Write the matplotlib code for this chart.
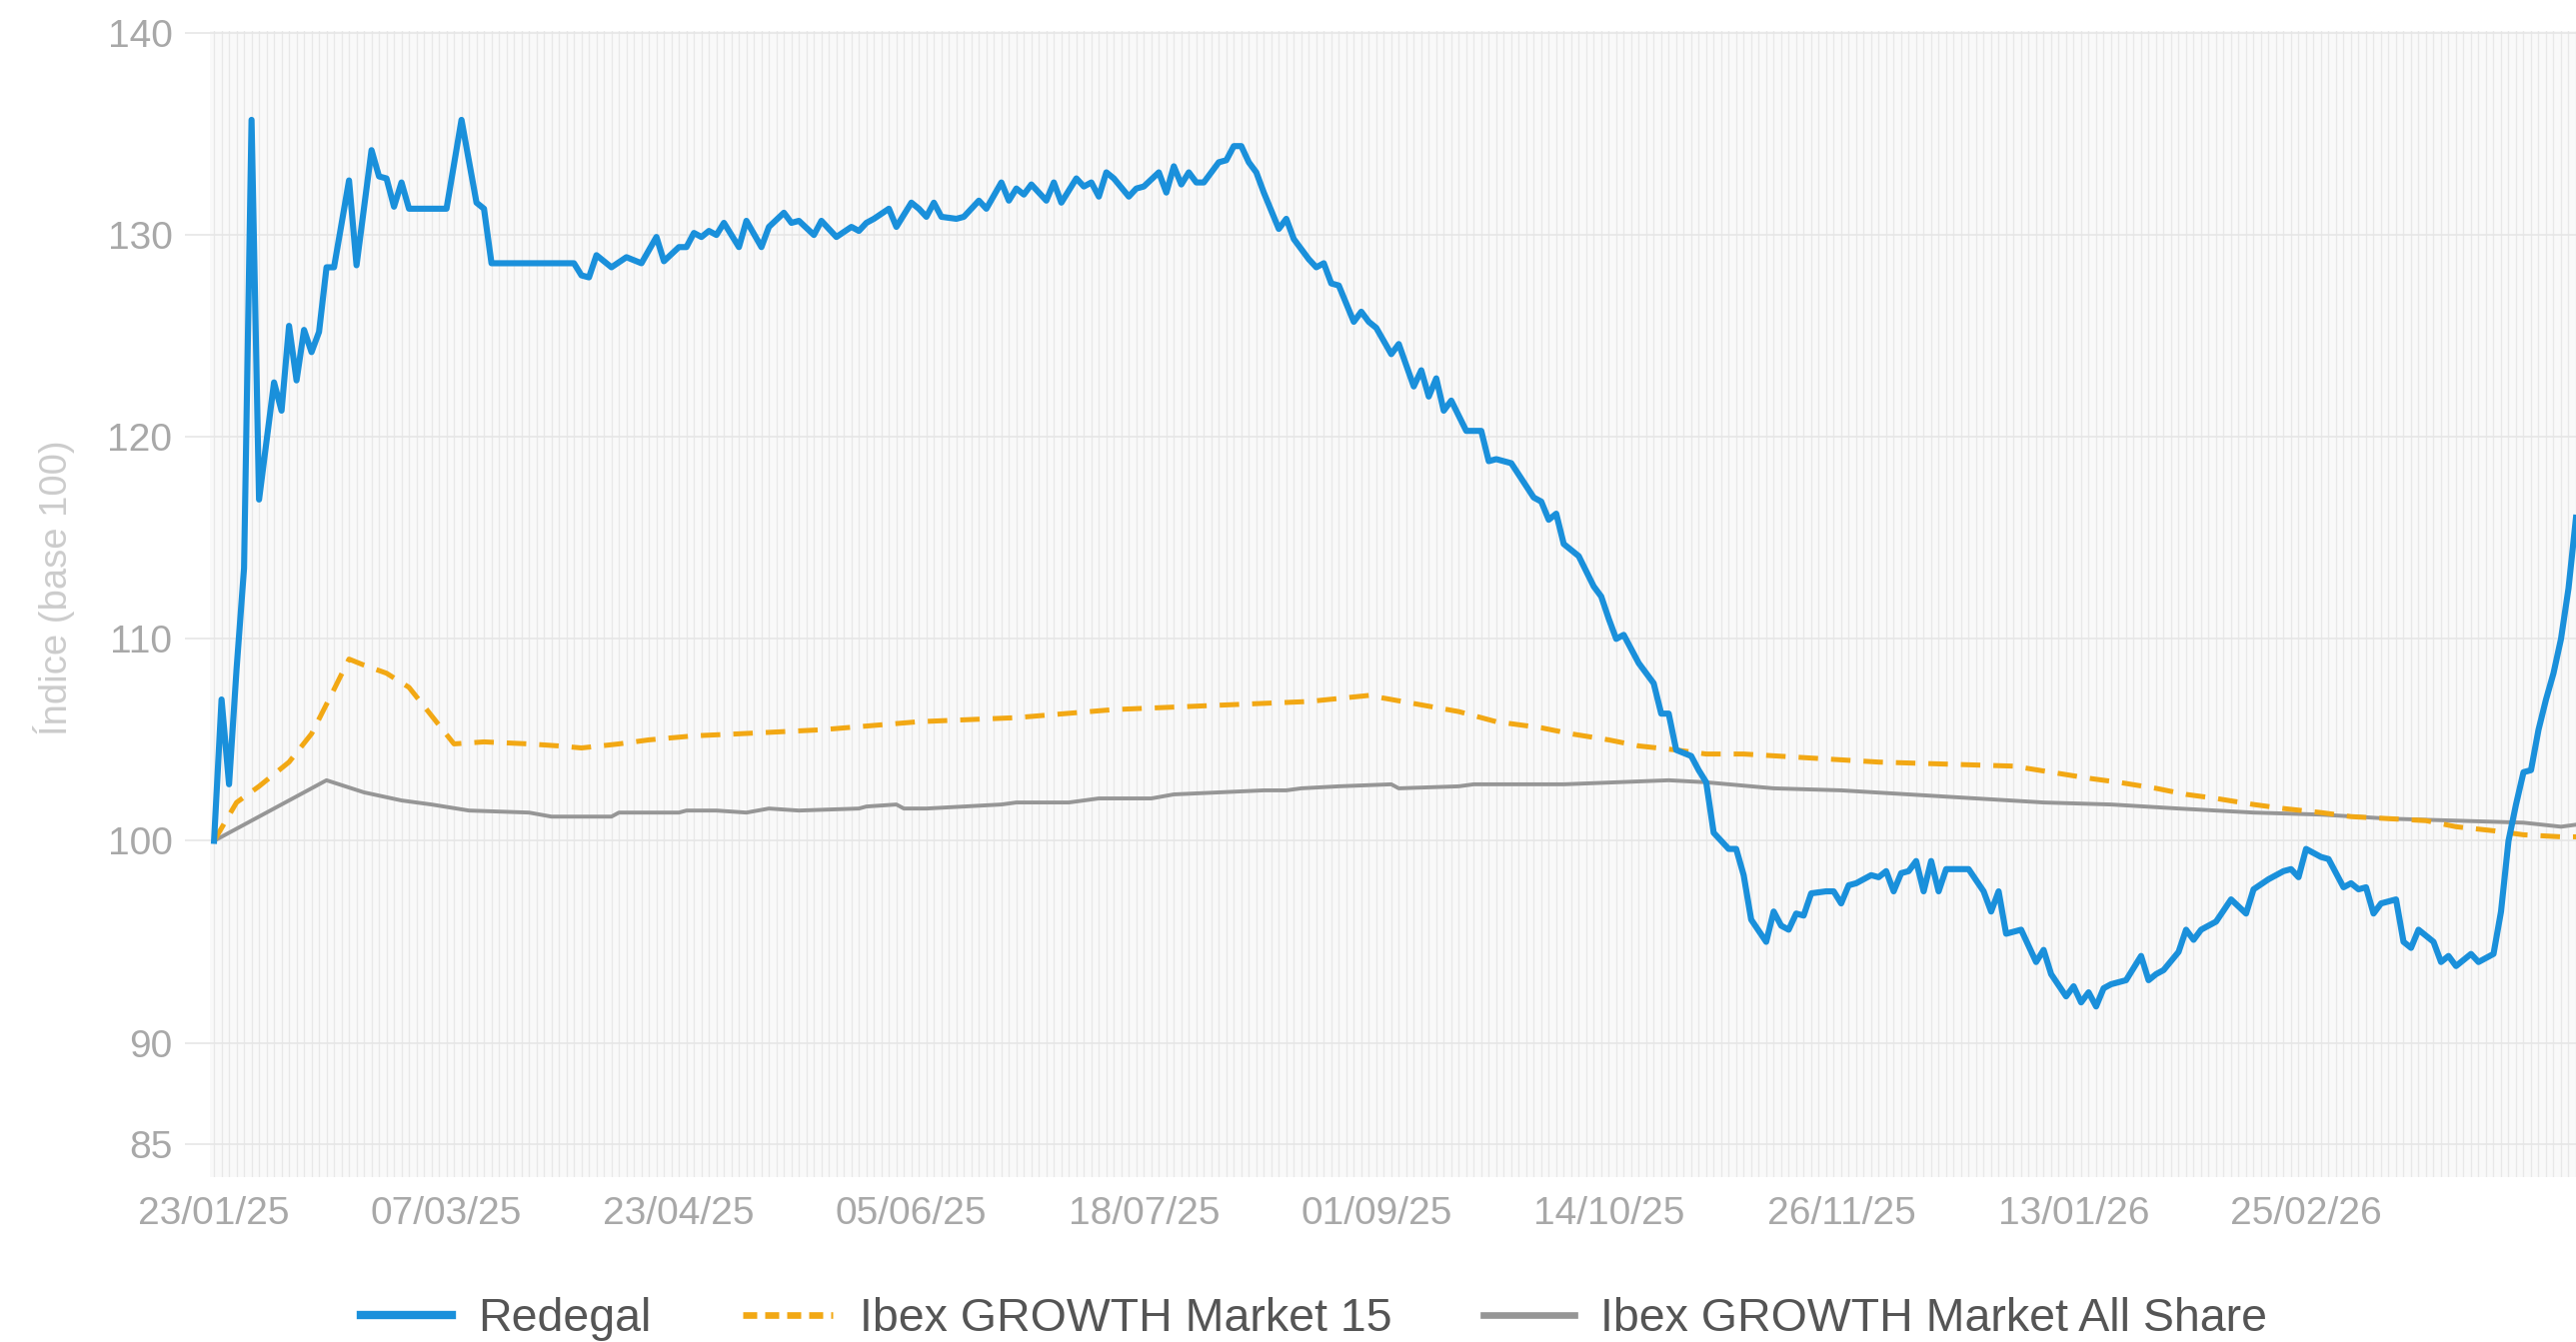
import matplotlib
matplotlib.use("Agg")
import matplotlib.pyplot as plt
from matplotlib.lines import Line2D
import numpy as np

plt.rcParams['font.family'] = ['Liberation Sans', 'DejaVu Sans']

# Colours
BLUE = '#1a90db'
ORANGE = '#f2a814'
GREY = '#969696'
TICK_TEXT = '#a8a8a8'
GRID = '#e6e6e6'

# x axis: trading-day index, a label every 31 sessions
tick_labels = ['23/01/25', '07/03/25', '23/04/25', '05/06/25', '18/07/25',
               '01/09/25', '14/10/25', '26/11/25', '13/01/26', '25/02/26']
tick_step = 31
y_ticks = [85, 90, 100, 110, 120, 130, 140]

# Redegal (index base 100)
redegal_x = [0, 1, 2, 3, 4, 5, 6, 7, 8, 9, 10, 11, 12, 13, 14, 15, 16, 18, 19,
             21, 22, 23, 24, 25, 26, 31, 33, 35, 36, 37, 48, 49, 50, 51, 53, 55,
             57, 59, 60, 62, 63, 64, 65, 66, 67, 68, 70, 71, 73, 74, 76, 77, 78,
             80, 81, 83, 85, 86, 87, 88, 90, 91, 93, 94, 95, 96, 97, 99, 100,
             102, 103, 105, 106, 107, 108, 109, 111, 112, 113, 115, 116, 117,
             118, 119, 120, 122, 123, 124, 126, 127, 128, 129, 130, 131, 132,
             134, 135, 136, 137, 138, 139, 140, 142, 143, 144, 146, 147, 148,
             149, 150, 152, 153, 154, 155, 157, 158, 160, 161, 162, 163, 164,
             165, 167, 169, 170, 171, 173, 176, 177, 178, 179, 180, 182, 184,
             185, 186, 187, 188, 190, 192, 193, 194, 195, 197, 198, 199, 200,
             202, 203, 204, 205, 207, 208, 209, 210, 211, 212, 213, 215, 216,
             217, 218, 219, 221, 222, 223, 224, 225, 226, 227, 228, 229, 230,
             231, 233, 234, 236, 237, 238, 239, 241, 243, 244, 245, 247, 248,
             249, 250, 251, 252, 253, 255, 257, 258, 259, 260, 262, 263, 264,
             265, 267, 269, 271, 272, 274, 276, 277, 278, 279, 281, 282, 284,
             285, 286, 287, 288, 289, 291, 292, 293, 294, 296, 297, 298, 299,
             301, 302, 304, 305, 306, 307, 308, 309, 310, 311, 312, 313, 314,
             315]
redegal_y = [100.0, 107.0, 102.8, 108.5, 113.5, 135.7, 116.9, 119.8, 122.7,
             121.3, 125.5, 122.8, 125.3, 124.2, 125.2, 128.4, 128.4, 132.7,
             128.5, 134.2, 132.9, 132.8, 131.4, 132.6, 131.3, 131.3, 135.7,
             131.6, 131.3, 128.6, 128.6, 128.0, 127.9, 129.0, 128.4, 128.9,
             128.6, 129.9, 128.7, 129.4, 129.4, 130.1, 129.9, 130.2, 130.0,
             130.6, 129.4, 130.7, 129.4, 130.4, 131.1, 130.6, 130.7, 130.0,
             130.7, 129.9, 130.4, 130.2, 130.6, 130.8, 131.3, 130.4, 131.6,
             131.3, 130.9, 131.6, 130.9, 130.8, 130.9, 131.7, 131.3, 132.6,
             131.7, 132.3, 132.0, 132.5, 131.7, 132.6, 131.6, 132.8, 132.4,
             132.6, 131.9, 133.1, 132.8, 131.9, 132.3, 132.4, 133.1, 132.1,
             133.4, 132.5, 133.1, 132.6, 132.6, 133.6, 133.7, 134.4, 134.4,
             133.6, 133.1, 132.1, 130.3, 130.8, 129.8, 128.8, 128.4, 128.6,
             127.6, 127.5, 125.7, 126.2, 125.7, 125.4, 124.1, 124.6, 122.5,
             123.3, 122.0, 122.9, 121.3, 121.8, 120.3, 120.3, 118.8, 118.9,
             118.7, 117.0, 116.8, 115.9, 116.2, 114.7, 114.1, 112.6, 112.1,
             111.0, 110.0, 110.2, 108.8, 107.8, 106.3, 106.3, 104.5, 104.2,
             103.5, 102.9, 100.4, 99.6, 99.6, 98.3, 96.1, 95.0, 96.5, 95.8,
             95.6, 96.4, 96.3, 97.4, 97.5, 97.5, 96.9, 97.8, 97.9, 98.3, 98.2,
             98.5, 97.5, 98.4, 98.5, 99.0, 97.5, 99.0, 97.5, 98.6, 98.6, 98.6,
             97.5, 96.5, 97.5, 95.4, 95.6, 94.0, 94.6, 93.4, 92.3, 92.8, 92.0,
             92.5, 91.8, 92.7, 92.9, 93.1, 94.3, 93.1, 93.4, 93.6, 94.5, 95.6,
             95.1, 95.6, 96.0, 97.1, 96.4, 97.6, 98.1, 98.5, 98.6, 98.2, 99.6,
             99.2, 99.1, 97.7, 97.9, 97.6, 97.7, 96.4, 96.9, 97.1, 95.0, 94.7,
             95.6, 95.0, 94.0, 94.3, 93.8, 94.4, 94.0, 94.4, 96.5, 100.0,
             101.8, 103.4, 103.5, 105.5, 107.0, 108.3, 110.0, 112.5, 116.0]

# Ibex GROWTH Market 15
ibex15_x = [0, 3, 6, 10, 13, 16, 18, 20, 23, 26, 29, 32, 36, 42, 46, 49, 54,
            58, 64, 70, 81, 94, 107, 120, 133, 146, 154, 160, 166, 171, 177,
            181, 186, 190, 195, 199, 204, 213, 222, 231, 240, 245, 250, 254,
            259, 263, 267, 272, 276, 281, 285, 290, 295, 299, 304, 308, 313,
            315]
ibex15_y = [100.0, 101.9, 102.7, 103.9, 105.3, 107.5, 109.0, 108.7, 108.3,
            107.6, 106.2, 104.8, 104.9, 104.8, 104.7, 104.6, 104.8, 105.0,
            105.2, 105.3, 105.5, 105.9, 106.1, 106.5, 106.7, 106.9, 107.2,
            106.8, 106.4, 105.9, 105.6, 105.3, 105.0, 104.7, 104.5, 104.3,
            104.3, 104.1, 103.9, 103.8, 103.7, 103.4, 103.1, 102.9, 102.6,
            102.3, 102.1, 101.8, 101.6, 101.4, 101.2, 101.1, 101.0, 100.7,
            100.5, 100.3, 100.2, 100.2]

# Ibex GROWTH Market All Share
allshare_x = [0, 15, 20, 25, 29, 34, 42, 45, 53, 54, 62, 63, 67, 71, 74, 78,
              86, 87, 91, 92, 95, 100, 105, 107, 114, 118, 125, 128, 134, 140,
              143, 145, 150, 157, 158, 166, 168, 174, 180, 194, 199, 208, 217,
              226, 235, 244, 253, 262, 272, 281, 290, 299, 308, 313, 315]
allshare_y = [100.0, 103.0, 102.4, 102.0, 101.8, 101.5, 101.4, 101.2, 101.2,
              101.4, 101.4, 101.5, 101.5, 101.4, 101.6, 101.5, 101.6, 101.7,
              101.8, 101.6, 101.6, 101.7, 101.8, 101.9, 101.9, 102.1, 102.1,
              102.3, 102.4, 102.5, 102.5, 102.6, 102.7, 102.8, 102.6, 102.7,
              102.8, 102.8, 102.8, 103.0, 102.9, 102.6, 102.5, 102.3, 102.1,
              101.9, 101.8, 101.6, 101.4, 101.3, 101.1, 101.0, 100.9, 100.7,
              100.8]

W, H = 2577, 1343
fig = plt.figure(figsize=(W / 100, H / 100), dpi=100)
fig.patch.set_facecolor('white')
ax = fig.add_axes([210 / W, 165 / H, 1 - 210 / W, (1178 - 31) / H])
ax.set_facecolor('#f9f9f9')

ax.plot(allshare_x, allshare_y, color=GREY, lw=2.8, zorder=3,
        solid_joinstyle='round')
ax.plot(ibex15_x, ibex15_y, color=ORANGE, lw=3.6, zorder=4,
        linestyle=(0, (3.9, 2.6)))
ax.plot(redegal_x, redegal_y, color=BLUE, lw=4.4, zorder=5,
        solid_joinstyle='round')

ax.set_xlim(-0.55, 314.4)
ax.set_ylim(83.35, 140.1)

# dense daily vertical grid + horizontal grid at the value ticks
ax.set_xticks(np.arange(len(tick_labels)) * tick_step)
ax.set_xticklabels(tick_labels)
ax.set_xticks(np.arange(0, 316), minor=True)
ax.set_yticks(y_ticks)
ax.grid(which='both', axis='x', color='#e8e8e8', lw=0.9, zorder=0)
ax.grid(which='major', axis='y', color=GRID, lw=1.2, zorder=1)

ax.tick_params(axis='x', which='both', length=0, pad=14,
               labelsize=28, labelcolor=TICK_TEXT)
ax.tick_params(axis='y', which='major', length=18, width=1.2, color=GRID,
               pad=9, labelsize=28, labelcolor=TICK_TEXT)
for s in ax.spines.values():
    s.set_visible(False)

fig.text(54 / W, 1 - 588 / H, 'Índice (base 100)', rotation=90,
         fontsize=27.5, color='#cccccc', ha='center', va='center')

handles = [
    Line2D([], [], color=BLUE, lw=6.0),
    Line2D([], [], color=ORANGE, lw=4.8, linestyle=(0, (2.1, 1.2))),
    Line2D([], [], color=GREY, lw=4.8),
]
labels = ['Redegal', 'Ibex GROWTH Market 15', 'Ibex GROWTH Market All Share']
leg = fig.legend(handles, labels, loc='center', bbox_to_anchor=(0.51, 0.5),
                 ncol=3, frameon=False, fontsize=33.5, handlelength=1.95,
                 handletextpad=0.56, columnspacing=1.97, labelcolor='#555555')

# measure the legend and drop it to the bottom edge (it is cut off there)
fig.canvas.draw()
bb = leg.get_window_extent()
cy = (bb.y0 + bb.y1) / 2
target = 23
leg.set_bbox_to_anchor((0.51, 0.5 + (target - cy) / H),
                       transform=fig.transFigure)

fig.savefig('out.png', dpi=100, facecolor='white')
